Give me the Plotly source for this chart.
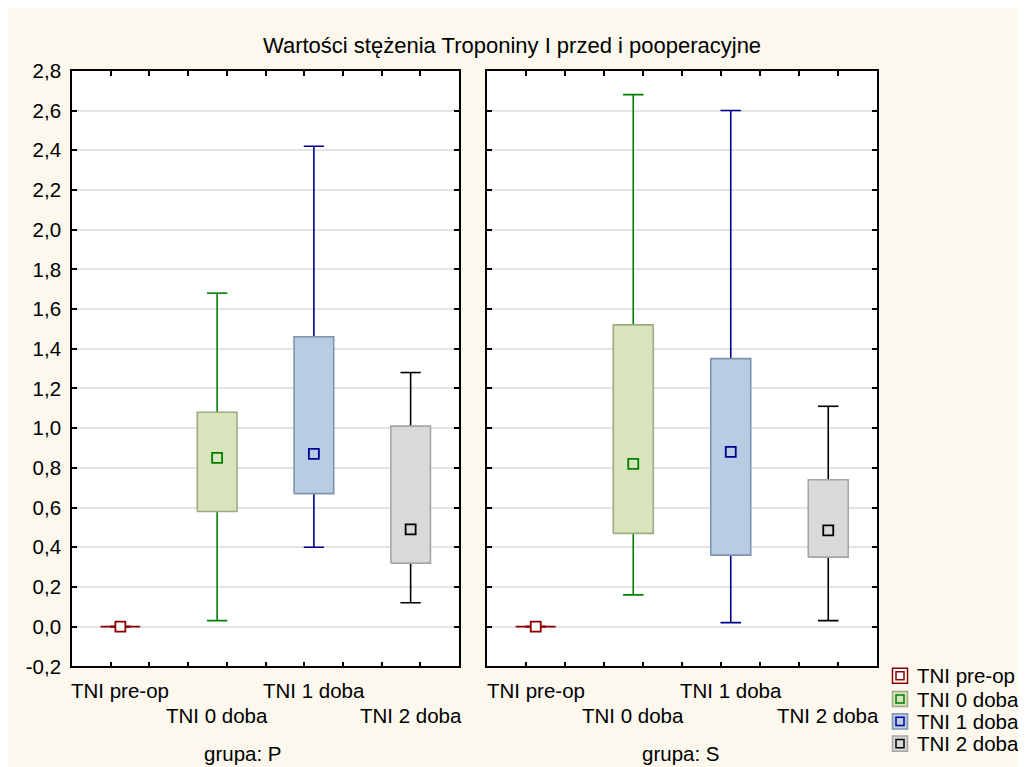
import plotly.graph_objects as go

# ---------------- data ----------------
categories = ["TNI pre-op", "TNI 0 doba", "TNI 1 doba", "TNI 2 doba"]
groups = ["grupa: P", "grupa: S"]

p_center = [0.0, 0.85, 0.87, 0.49]
p_q1 = [0.0, 0.58, 0.67, 0.32]
p_q3 = [0.0, 1.08, 1.46, 1.01]
p_low = [0.0, 0.03, 0.40, 0.12]
p_high = [0.0, 1.68, 2.42, 1.28]

s_center = [0.0, 0.82, 0.88, 0.485]
s_q1 = [0.0, 0.47, 0.36, 0.35]
s_q3 = [0.0, 1.52, 1.35, 0.74]
s_low = [0.0, 0.16, 0.02, 0.03]
s_high = [0.0, 2.68, 2.60, 1.11]

y_ticks = [round(-0.2 + 0.2 * i, 1) for i in range(16)]
y_ticktext = [f"{v:.1f}".replace(".", ",") for v in y_ticks]

title_text = "Wartości stężenia Troponiny I przed i pooperacyjne"

# ---------------- styles ----------------
line_cols = ["#8B0000", "#008000", "#000090", "#000000"]
fill_cols = ["#FFFFFF", "#D8E4BC", "#B8CCE4", "#D9D9D9"]
edge_cols = ["#8B0000", "#A0AA82", "#7F93B0", "#A6A6A6"]
cream = "#FCF8EE"
FONT = "Liberation Sans, Arial, sans-serif"
FS = 20.5
W, H = 1026, 767

BOX_HW = 0.205
CAP_HW = 0.105

fig = go.Figure()

panels = [
    ("x", "y", p_center, p_q1, p_q3, p_low, p_high),
    ("x2", "y2", s_center, s_q1, s_q3, s_low, s_high),
]

for xa, ya, cen, q1, q3, lo, hi in panels:
    for i, cat in enumerate(categories):
        wx = [i, i, None, i, i, None, i - CAP_HW, i + CAP_HW, None, i - CAP_HW, i + CAP_HW]
        wy = [q3[i], hi[i], None, q1[i], lo[i], None, hi[i], hi[i], None, lo[i], lo[i]]
        fig.add_trace(go.Scatter(x=wx, y=wy, mode="lines", xaxis=xa, yaxis=ya,
                                 line=dict(color=line_cols[i], width=1.6),
                                 showlegend=False, hoverinfo="skip"))
        bx = [i - BOX_HW, i + BOX_HW, i + BOX_HW, i - BOX_HW, i - BOX_HW]
        by = [q1[i], q1[i], q3[i], q3[i], q1[i]]
        fig.add_trace(go.Scatter(x=bx, y=by, mode="lines", fill="toself", xaxis=xa, yaxis=ya,
                                 fillcolor=fill_cols[i],
                                 line=dict(color=edge_cols[i], width=1.6),
                                 showlegend=False, hoverinfo="skip"))
        fig.add_trace(go.Scatter(x=[i], y=[cen[i]], mode="markers", xaxis=xa, yaxis=ya,
                                 marker=dict(symbol="square", size=10,
                                             color=fill_cols[i], line=dict(width=1.8, color=line_cols[i])),
                                 showlegend=False, name=cat))

x_tickvals = [round(-0.1 + 0.4 * k, 2) for k in range(9)]

def xaxis(domain):
    return dict(domain=domain, range=[-0.5, 3.5], tickvals=x_tickvals, showticklabels=False,
                ticks="inside", ticklen=5, tickwidth=1.5, tickcolor="black",
                showline=True, linecolor="black", linewidth=1.6, mirror="ticks",
                showgrid=False, zeroline=False, fixedrange=True)

def yaxis(anchor, labels):
    return dict(domain=[1 - 666.3 / H, 1 - 52.4 / H], range=[-0.2, 2.8], tickvals=y_ticks,
                ticktext=y_ticktext, showticklabels=labels, anchor=anchor,
                ticks="inside", ticklen=5, tickwidth=1.5, tickcolor="black",
                showline=True, linecolor="black", linewidth=1.6, mirror="ticks",
                showgrid=True, gridcolor="#E3E3E3", gridwidth=1.5, zeroline=False,
                ticklabelstandoff=5, tickfont=dict(size=FS, color="black"), fixedrange=True)

annotations = []
annotations.append(dict(text=title_text, xref="paper", yref="paper", x=504 / W, y=1 - 26 / H,
                        showarrow=False, xanchor="center", yanchor="middle",
                        font=dict(size=22, color="black")))
for xa in ["x", "x2"]:
    for i, cat in enumerate(categories):
        ypix = 691 if i % 2 == 0 else 717
        annotations.append(dict(text=cat, xref=xa, yref="paper", x=i, y=1 - ypix / H,
                                showarrow=False, xanchor="center", yanchor="middle",
                                font=dict(size=FS, color="black")))
for gx, g in zip([235, 673], groups):
    annotations.append(dict(text=g, xref="paper", yref="paper", x=gx / W, y=1 - 756 / H,
                            showarrow=False, xanchor="center", yanchor="middle",
                            font=dict(size=FS, color="black")))

shapes = []
leg_y = [676, 700, 723, 746]
for i, cat in enumerate(categories):
    cy = leg_y[i]
    shapes.append(dict(type="rect", xref="paper", yref="paper",
                       x0=884.5 / W, x1=899.5 / W, y0=1 - (cy + 7.8) / H, y1=1 - (cy - 7.8) / H,
                       fillcolor=fill_cols[i], line=dict(color=edge_cols[i], width=1.5)))
    shapes.append(dict(type="rect", xref="paper", yref="paper",
                       x0=888 / W, x1=896 / W, y0=1 - (cy + 4.2) / H, y1=1 - (cy - 4.2) / H,
                       fillcolor="rgba(0,0,0,0)", line=dict(color=line_cols[i], width=1.5)))
    annotations.append(dict(text=cat, xref="paper", yref="paper", x=907 / W, y=1 - cy / H,
                            showarrow=False, xanchor="left", yanchor="middle",
                            font=dict(size=FS, color="black")))

fig.update_layout(
    width=W, height=H,
    margin=dict(l=0, r=0, t=0, b=0),
    paper_bgcolor=cream, plot_bgcolor="white",
    font=dict(family=FONT, size=FS, color="black"),
    xaxis=xaxis([64 / W, 451 / W]),
    xaxis2=xaxis([479 / W, 869 / W]),
    yaxis=yaxis("x", True),
    yaxis2=yaxis("x2", False),
    annotations=annotations,
    shapes=shapes,
    showlegend=False,
)
fig.update_layout(xaxis=dict(anchor="y"), xaxis2=dict(anchor="y2"))

fig.write_html("out.html")
